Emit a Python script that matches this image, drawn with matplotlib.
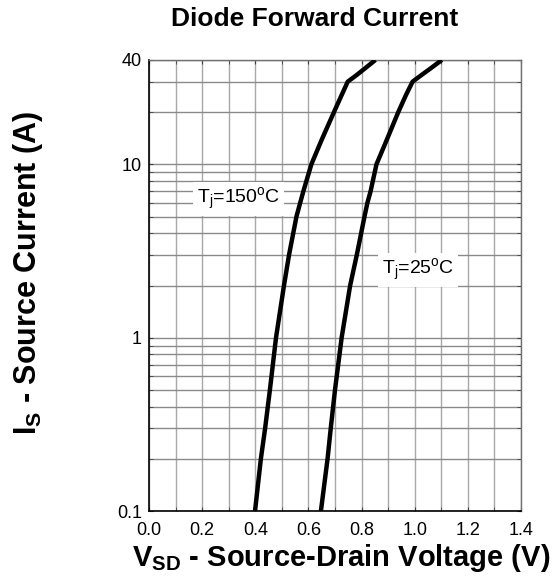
import matplotlib
matplotlib.use("Agg")
import matplotlib.pyplot as plt
from matplotlib.ticker import FixedLocator, NullFormatter

plt.rcParams['font.family'] = ['Liberation Sans', 'DejaVu Sans']
plt.rcParams['mathtext.fontset'] = 'custom'
plt.rcParams['mathtext.rm'] = 'Liberation Sans'
plt.rcParams['mathtext.bf'] = 'Liberation Sans:bold'
plt.rcParams['mathtext.it'] = 'Liberation Sans:italic'

# Data
v_150 = [0.399, 0.421, 0.437, 0.455, 0.478, 0.508, 0.527, 0.555, 0.569, 0.581, 0.611,
         0.652, 0.696, 0.725, 0.748, 0.782, 0.813, 0.852]
i_150 = [0.1, 0.2, 0.3, 0.5, 1.0, 2.0, 3.0, 5.0, 6.0, 7.0, 10,
         14.1, 20, 25.1, 30, 32.8, 35.8, 40]
v_25 = [0.647, 0.672, 0.684, 0.700, 0.725, 0.757, 0.782, 0.811, 0.822, 0.834, 0.856,
        0.897, 0.938, 0.967, 0.992, 1.026, 1.060, 1.102]
i_25 = [0.1, 0.2, 0.3, 0.5, 1.0, 2.0, 3.0, 5.0, 6.0, 7.0, 10,
        14.1, 20, 25.1, 30, 32.8, 35.8, 40]

x_ticks = [0.0, 0.2, 0.4, 0.6, 0.8, 1.0, 1.2, 1.4]
x_tick_labels = ["0.0", "0.2", "0.4", "0.6", "0.8", "1.0", "1.2", "1.4"]
y_ticks = [0.1, 1, 10, 40]
y_tick_labels = ["0.1", "1", "10", "40"]

fig = plt.figure(figsize=(5.53, 5.87), dpi=100)
ax = fig.add_axes([149/553, 1-511/587, 372/553, 451/587])

ax.set_yscale('log')
ax.set_xlim(0, 1.4)
ax.set_ylim(0.1, 40)

ax.plot(v_150, i_150, color='black', lw=3.2, solid_capstyle='butt', zorder=3)
ax.plot(v_25, i_25, color='black', lw=3.2, solid_capstyle='butt', zorder=3)

ax.set_xticks(x_ticks)
ax.set_xticklabels(x_tick_labels)
ax.xaxis.set_minor_locator(FixedLocator([0.1, 0.3, 0.5, 0.7, 0.9, 1.1, 1.3]))
ax.set_yticks(y_ticks)
ax.set_yticklabels(y_tick_labels)
minor_y = [k*0.1 for k in range(2, 10)] + list(range(2, 10)) + [20, 30]
ax.yaxis.set_minor_locator(FixedLocator(minor_y))
ax.yaxis.set_minor_formatter(NullFormatter())

ax.grid(True, which='both', axis='x', color='#a8a8a8', lw=1.0)
ax.grid(True, which='both', axis='y', color='#8a8a8a', lw=1.0)
ax.set_axisbelow(True)

ax.tick_params(which='both', direction='in', length=3, color='#404040',
               top=True, right=True, labelsize=13)
ax.tick_params(axis='x', which='major', pad=8)
ax.tick_params(axis='y', which='major', pad=5)

for s in ['top', 'right']:
    ax.spines[s].set_color('#707070')
    ax.spines[s].set_linewidth(1.0)
for s in ['left', 'bottom']:
    ax.spines[s].set_color('black')
    ax.spines[s].set_linewidth(1.2)

bbox = dict(facecolor='white', edgecolor='none', pad=3)
ax.text(0.338, 6.3, r'T$_\mathregular{j}$=150$^\mathregular{o}$C', fontsize=14,
        ha='center', va='center', bbox=bbox, zorder=4)
ax.text(1.012, 2.45, r'T$_\mathregular{j}$=25$^\mathregular{o}$C', fontsize=14,
        ha='center', va='center', bbox=bbox, zorder=4)

fig.text(315/553, 1-19/587, 'Diode Forward Current', fontsize=19, fontweight='bold',
         ha='center', va='center')
fig.text(341/553, 1-558/587, r'V$_{\mathbf{SD}}$ - Source-Drain Voltage (V)', fontsize=21,
         fontweight='bold', ha='center', va='center')
fig.text(28/553, 1-273/587, r'I$_{\mathbf{S}}$ - Source Current (A)', fontsize=22,
         fontweight='bold', ha='center', va='center', rotation=90)

fig.savefig('out.png', dpi=100)
